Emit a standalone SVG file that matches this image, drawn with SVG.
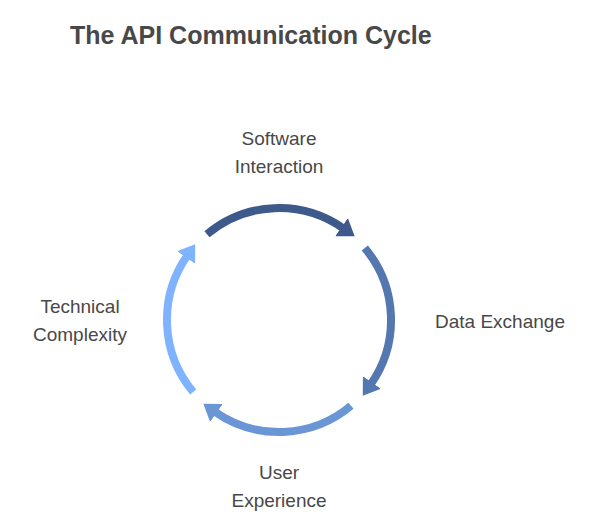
<svg xmlns="http://www.w3.org/2000/svg" width="600" height="530" viewBox="0 0 600 530">
<style>
text{font-family:"Liberation Sans",Arial,sans-serif;fill:#484848}
.t{font-size:25px;font-weight:bold}
.l{font-size:19px;text-anchor:middle}
.a{fill:none;stroke-width:8}
</style>
<defs>
<marker id="m1" markerUnits="userSpaceOnUse" markerWidth="30" markerHeight="30" refX="2" refY="11" orient="auto"><path d="M0,0 L16,11 L0,22 Z" fill="#3e5a8a"/></marker>
<marker id="m2" markerUnits="userSpaceOnUse" markerWidth="30" markerHeight="30" refX="2" refY="11" orient="auto"><path d="M0,0 L16,11 L0,22 Z" fill="#5577b0"/></marker>
<marker id="m3" markerUnits="userSpaceOnUse" markerWidth="30" markerHeight="30" refX="2" refY="11" orient="auto"><path d="M0,0 L16,11 L0,22 Z" fill="#6a96d6"/></marker>
<marker id="m4" markerUnits="userSpaceOnUse" markerWidth="30" markerHeight="30" refX="2" refY="11" orient="auto"><path d="M0,0 L16,11 L0,22 Z" fill="#7fb2ff"/></marker>
</defs>
<rect width="600" height="530" fill="#fff"/>
<text class="t" x="70" y="44">The API Communication Cycle</text>
<g id="connectors">
<path class="a" stroke="#3e5a8a" d="M207,234.2 A112,112 0 0 1 343.2,228.3" marker-end="url(#m1)"/>
<path class="a" stroke="#5577b0" d="M364.8,248 A112,112 0 0 1 370.8,384.2" marker-end="url(#m2)"/>
<path class="a" stroke="#6a96d6" d="M351,405.8 A112,112 0 0 1 214.8,411.8" marker-end="url(#m3)"/>
<path class="a" stroke="#7fb2ff" d="M193.2,392 A112,112 0 0 1 187.2,255.8" marker-end="url(#m4)"/>
</g>
<g id="software"><text class="l" x="279" y="145">Software</text><text class="l" x="279" y="173">Interaction</text></g>
<g id="data"><text class="l" x="500" y="328">Data Exchange</text></g>
<g id="user"><text class="l" x="279" y="479">User</text><text class="l" x="279" y="507">Experience</text></g>
<g id="technical"><text class="l" x="80" y="313">Technical</text><text class="l" x="80" y="341">Complexity</text></g>
</svg>
